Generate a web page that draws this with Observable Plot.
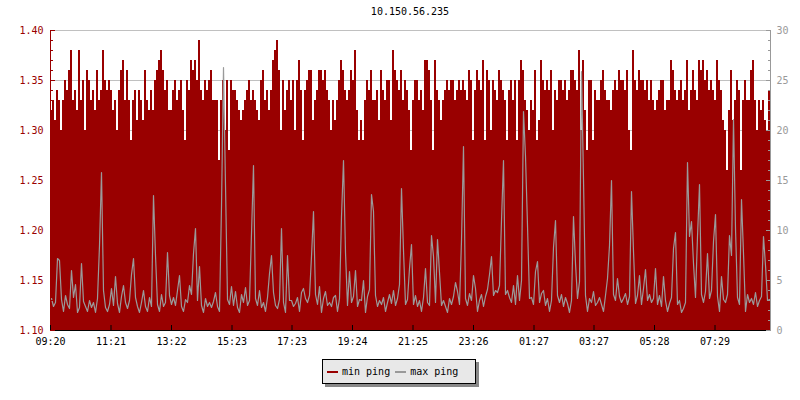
<!DOCTYPE html>
<html><head><meta charset="utf-8">
<script src="https://cdn.jsdelivr.net/npm/d3@7"></script>
<script src="https://cdn.jsdelivr.net/npm/@observablehq/plot@0.6"></script>
<style>
body{margin:0;background:#fff;font-family:"DejaVu Sans Mono",monospace;}
#wrap{position:relative;width:800px;height:400px;overflow:hidden;}
#chart{position:absolute;left:0;top:0;}
#title{position:absolute;left:50px;width:720px;top:6px;text-align:center;font-size:10px;color:#000;}
#legend{position:absolute;left:322px;top:359px;width:152px;height:23px;background:#e8e8e8;border:1px solid #000;box-shadow:3px 3px 0 #888;font-size:10px;display:flex;align-items:center;color:#000;}
.sw{display:inline-block;width:11px;height:2px;}
</style></head>
<body>
<div id="wrap"><div id="chart"></div><div id="title"></div><div id="legend"></div></div>
<script>
const title = "10.150.56.235";
const seriesNames = ["min ping", "max ping"];
const stepMinutes = 4;
const xDomain = [0, 1440];
const tickMinutes = [0, 121, 242, 363, 483, 604, 725, 846, 967, 1087, 1208, 1329];
const tickLabels = ["09:20", "11:21", "13:22", "15:23", "17:23", "19:24", "21:25", "23:26", "01:27", "03:27", "05:28", "07:29"];
const leftDomain = [1.10, 1.40];
const rightDomain = [0, 30];

// min ping (left axis, ms)
const minPing = [
1.32,1.33,1.31,1.34,1.33,1.30,1.33,1.35,1.34,1.36,1.38,1.33,1.34,1.32,1.38,1.33,1.35,1.30,1.36,1.35,
1.33,1.34,1.32,1.36,1.33,1.34,1.38,1.35,1.34,1.35,1.34,1.32,1.33,1.30,1.34,1.36,1.37,1.33,1.36,1.33,
1.29,1.33,1.34,1.31,1.34,1.33,1.31,1.36,1.33,1.32,1.34,1.32,1.35,1.36,1.37,1.38,1.36,1.34,1.35,1.32,
1.32,1.34,1.35,1.33,1.34,1.35,1.32,1.29,1.35,1.34,1.37,1.36,1.37,1.35,1.39,1.34,1.33,1.35,1.34,1.35,
1.36,1.33,1.33,1.33,1.27,1.33,1.35,1.30,1.35,1.28,1.35,1.34,1.34,1.33,1.32,1.31,1.32,1.33,1.34,1.35,
1.33,1.34,1.33,1.32,1.31,1.35,1.36,1.33,1.34,1.32,1.34,1.37,1.38,1.39,1.36,1.30,1.35,1.32,1.34,1.35,
1.33,1.35,1.30,1.35,1.37,1.34,1.29,1.34,1.35,1.36,1.36,1.31,1.33,1.34,1.36,1.36,1.35,1.36,1.34,1.33,
1.30,1.33,1.31,1.33,1.35,1.37,1.36,1.34,1.33,1.34,1.36,1.35,1.38,1.32,1.29,1.31,1.29,1.33,1.35,1.34,
1.36,1.33,1.33,1.34,1.31,1.36,1.34,1.33,1.35,1.35,1.31,1.38,1.36,1.35,1.34,1.36,1.33,1.35,1.34,1.32,
1.28,1.33,1.35,1.35,1.33,1.34,1.32,1.37,1.37,1.36,1.33,1.28,1.37,1.34,1.33,1.31,1.33,1.34,1.35,1.34,
1.35,1.35,1.33,1.34,1.35,1.34,1.35,1.34,1.33,1.36,1.35,1.29,1.34,1.36,1.35,1.34,1.37,1.29,1.36,1.35,
1.30,1.35,1.34,1.33,1.36,1.35,1.34,1.33,1.29,1.34,1.35,1.33,1.35,1.29,1.35,1.37,1.36,1.33,1.32,1.30,
1.33,1.32,1.36,1.29,1.31,1.37,1.35,1.34,1.35,1.34,1.36,1.30,1.34,1.33,1.35,1.35,1.34,1.35,1.33,1.34,
1.36,1.36,1.35,1.34,1.38,1.30,1.37,1.32,1.28,1.35,1.35,1.29,1.34,1.33,1.33,1.35,1.36,1.34,1.33,1.33,
1.32,1.34,1.35,1.34,1.36,1.35,1.35,1.34,1.36,1.30,1.28,1.38,1.35,1.34,1.36,1.35,1.35,1.34,1.35,1.33,
1.35,1.33,1.32,1.33,1.34,1.35,1.35,1.32,1.33,1.33,1.37,1.36,1.34,1.33,1.34,1.35,1.33,1.34,1.37,1.32,
1.34,1.36,1.34,1.33,1.37,1.36,1.37,1.35,1.36,1.34,1.35,1.34,1.33,1.37,1.35,1.34,1.31,1.30,1.26,1.32,
1.36,1.31,1.33,1.35,1.34,1.26,1.33,1.35,1.33,1.33,1.36,1.37,1.33,1.30,1.33,1.32,1.33,1.31,1.30,1.34
];

// max ping (right axis, ms)
const maxPing = [
3.2,2.4,2.8,7.2,7.0,3.1,1.9,3.5,2.6,2.2,6.0,3.3,4.6,1.8,2.3,6.7,2.9,2.4,1.9,3.0,
2.3,2.8,1.8,3.2,8.5,15.8,4.0,2.3,1.9,2.6,4.2,2.5,5.4,2.7,1.8,3.4,4.5,2.8,2.2,3.0,
5.6,7.2,3.3,2.4,1.8,2.8,4.0,2.4,1.9,3.3,2.4,13.5,7.5,2.6,1.9,3.6,2.4,2.8,7.8,3.5,
2.6,3.3,2.5,4.0,5.5,2.4,1.9,3.1,2.8,4.5,3.6,7.7,10.2,3.0,6.4,2.5,1.8,3.2,2.4,2.8,
2.3,2.9,3.8,2.4,1.9,12.4,26.3,14.5,3.1,2.6,4.4,2.5,3.9,2.3,1.8,3.6,2.8,4.3,2.5,3.0,
9.7,16.5,3.2,2.5,4.0,2.3,2.8,1.9,3.3,5.7,7.5,3.8,2.5,2.2,3.1,10.2,2.8,1.8,7.5,3.0,
3.0,2.4,2.7,3.3,1.9,3.8,4.2,3.2,2.8,3.5,7.4,11.9,3.6,2.6,4.4,1.8,3.2,3.9,2.5,2.8,
2.4,3.3,3.5,1.9,3.2,11.4,17.0,7.8,2.5,5.9,2.8,3.4,6.0,2.4,3.1,3.0,5.0,1.8,3.4,4.1,
13.6,11.9,3.5,2.4,3.0,2.6,3.3,1.9,2.8,3.6,2.7,4.0,2.5,3.2,4.6,14.2,8.0,2.6,3.1,6.2,
8.6,2.6,3.5,2.4,3.0,1.9,3.3,6.2,2.8,2.5,9.5,7.4,2.8,9.1,5.8,2.5,3.0,2.4,1.8,3.2,
2.6,3.4,4.8,3.9,2.6,9.0,18.4,3.2,2.5,3.7,3.0,5.5,4.2,1.9,3.0,3.6,2.4,3.4,4.1,5.6,
7.4,3.5,4.0,3.8,4.5,11.0,17.0,3.6,4.0,3.3,2.8,4.5,2.6,5.5,3.0,5.0,21.9,17.4,10.5,3.2,
3.3,2.6,5.9,6.9,2.8,3.7,4.0,2.5,3.2,1.9,3.0,8.3,11.0,3.5,2.8,3.6,2.4,3.3,2.7,1.8,
3.0,11.4,6.7,3.2,4.9,25.9,15.1,3.5,1.9,3.2,2.8,3.9,2.5,2.8,3.3,2.6,1.9,3.5,5.2,8.5,
15.0,3.6,3.0,5.2,3.4,2.8,3.2,3.7,2.6,3.4,13.9,7.9,2.7,3.5,5.5,2.6,4.2,6.1,3.0,3.6,
2.8,3.2,6.2,2.6,3.5,2.4,5.4,3.0,1.9,2.7,3.3,8.2,9.8,2.6,3.0,1.8,2.2,2.8,16.8,9.4,
10.9,6.7,3.3,9.4,14.6,3.6,2.8,3.9,7.7,3.2,4.0,8.9,11.6,3.4,1.9,5.4,3.1,2.8,3.6,9.5,
7.5,21.1,10.2,3.3,2.6,13.1,7.7,1.9,3.6,2.8,3.2,2.6,3.8,2.4,3.0,3.4,9.4,6.5,3.0,3.1
];

const red = "#990000", grey = "#999999";
// map the right-axis scale onto the left-axis scale
const toLeft = v => leftDomain[0] + (v - rightDomain[0]) * (leftDomain[1] - leftDomain[0]) / (rightDomain[1] - rightDomain[0]);
const fromLeft = y => rightDomain[0] + (y - leftDomain[0]) * (rightDomain[1] - rightDomain[0]) / (leftDomain[1] - leftDomain[0]);

const data = minPing.map((m, i) => ({t: i * stepMinutes, t2: (i + 1) * stepMinutes, tm: (i + 0.5) * stepMinutes, min: m, max: toLeft(maxPing[i])}));
const leftMajor = d3.range(110, 141, 5).map(v => v / 100);
const leftMinor = d3.range(110, 141, 1).map(v => v / 100);
const rightMajor = d3.range(0, 31, 5).map(toLeft);
const rightMinor = d3.range(0, 31, 1).map(toLeft);

const chart = Plot.plot({
  width: 800, height: 360,
  marginLeft: 50, marginRight: 30, marginTop: 30, marginBottom: 30,
  style: {fontFamily: "DejaVu Sans Mono", fontSize: "10px", background: "white", color: "black"},
  x: {domain: xDomain},
  y: {domain: leftDomain},
  marks: [
    Plot.ruleY(leftMajor, {stroke: "#c0c0c0"}),
    Plot.rectY(data, {x1: "t", x2: "t2", y1: leftDomain[0], y2: "min", fill: red, shapeRendering: "crispEdges"}),
    Plot.line(data, {x: "tm", y: "max", curve: "linear", stroke: "#9a9a9a", strokeWidth: 1.2}),
    Plot.ruleX([xDomain[0]], {stroke: red}),
    Plot.ruleX([xDomain[1]], {stroke: grey}),
    Plot.ruleY([leftDomain[0]], {stroke: "black"}),
    Plot.axisY(leftMinor, {anchor: "left", tickSize: -3, text: null, color: red, label: null}),
    Plot.axisY(leftMajor, {anchor: "left", tickSize: -5, tickPadding: 12, tickFormat: d => d.toFixed(2), color: red, label: null}),
    Plot.axisY(rightMinor, {anchor: "right", tickSize: -3, text: null, color: grey, label: null}),
    Plot.axisY(rightMajor, {anchor: "right", tickSize: -5, tickPadding: 11, tickFormat: d => String(Math.round(fromLeft(d))), color: grey, label: null}),
    Plot.axisX(tickMinutes, {anchor: "bottom", tickSize: -5, tickPadding: 12, tickFormat: d => tickLabels[tickMinutes.indexOf(d)], color: "black", label: null})
  ]
});
document.getElementById("chart").appendChild(chart);
document.getElementById("title").textContent = title;
const lg = document.getElementById("legend");
lg.innerHTML =
  `<span class="sw" style="background:${red};margin-left:4px;margin-right:4px"></span><span>${seriesNames[0]}</span>` +
  `<span class="sw" style="background:${grey};margin-left:5px;margin-right:4px"></span><span>${seriesNames[1]}</span>`;
</script>
</body></html>
